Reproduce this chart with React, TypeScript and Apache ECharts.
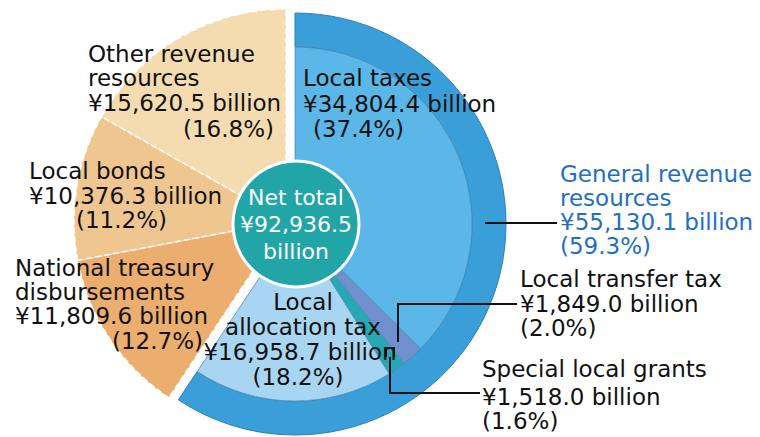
import React, { useEffect, useRef } from "react";
import * as echarts from "echarts";

// ---- data ----
const categories = [
  "Local taxes",
  "Local transfer tax",
  "Special local grants",
  "Local allocation tax",
  "National treasury disbursements",
  "Local bonds",
  "Other revenue resources",
];
const values = [34804.4, 1849.0, 1518.0, 16958.7, 11809.6, 10376.3, 15620.5];
const percents = [37.4, 2.0, 1.6, 18.2, 12.7, 11.2, 16.8];
const generalCount = 4; // first four items form the general revenue resources
const generalName = "General revenue resources";
const generalValue = 55130.1;
const generalPercent = 59.3;
const totalName = "Net total";
const totalValue = 92936.5;

// ---- styles / layout ----
const FONT = "DejaVu Sans";
const FS = 23;
const colors: Record<string, string> = {
  "Local taxes": "#5ab7e7",
  "Local transfer tax": "#6f8fcd",
  "Special local grants": "#27a8b4",
  "Local allocation tax": "#a8d5f2",
  "National treasury disbursements": "#ebae6e",
  "Local bonds": "#efc68f",
  "Other revenue resources": "#f4dcb0",
};
const ringColor = "#3a9fd8";
const centerColor = "#21a5a7";

// name lines + positions of: name block (first-line x, first-line y), value line, percent line
type LabelPos = {
  lines: string[];
  lh: number;
  xs: number[];
  ys: number[];
  align?: string;
  color?: string;
};
const labelPos: Record<string, LabelPos> = {
  "Local taxes": { lines: ["Local taxes"], lh: 24, xs: [303, 303, 313], ys: [78, 104, 129] },
  "Local transfer tax": { lines: ["Local transfer tax"], lh: 24, xs: [520, 520, 520], ys: [279, 304, 328] },
  "Special local grants": { lines: ["Special local grants"], lh: 24, xs: [482, 482, 482], ys: [369, 397, 421] },
  "Local allocation tax": {
    lines: ["Local", "allocation tax"],
    lh: 25,
    xs: [303, 300, 298],
    ys: [302, 352, 377],
    align: "center",
  },
  "National treasury disbursements": {
    lines: ["National treasury", "disbursements"],
    lh: 24,
    xs: [15, 15, 112],
    ys: [268, 316, 341],
  },
  "Local bonds": { lines: ["Local bonds"], lh: 24, xs: [29, 29, 76], ys: [171, 196, 220] },
  "Other revenue resources": {
    lines: ["Other revenue", "resources"],
    lh: 24,
    xs: [88, 88, 183],
    ys: [54, 103, 129],
  },
  [generalName]: {
    lines: ["General revenue", "resources"],
    lh: 24,
    xs: [560, 560, 560],
    ys: [174, 222, 246],
    color: "#1f6fc2",
  },
};

const leaders: number[][][] = [
  [[485, 223], [557, 223]],
  [[398, 342], [398, 304], [517, 304]],
  [[390, 357], [390, 393], [480, 393]],
  [[386, 357], [386, 348], [394, 348], [394, 357]],
];

const leftCenter = [286, 221];
const blueCenter = [295, 224];

const fmt = (v: number) =>
  v.toLocaleString("en-US", { minimumFractionDigits: 1, maximumFractionDigits: 1 });

const transparent = { color: "rgba(0,0,0,0)", borderWidth: 0 };

export default function App() {
  const ref = useRef<HTMLDivElement>(null);
  useEffect(() => {
    if (!ref.current) return;
    const chart = echarts.init(ref.current, undefined, { renderer: "svg" });

    const blueItems = categories.slice(0, generalCount).map((name, i) => ({
      name,
      value: values[i],
      itemStyle: { color: colors[name] },
    }));
    const otherSum = values.slice(generalCount).reduce((a, b) => a + b, 0);
    const leftItems = categories.slice(generalCount).map((name, i) => ({
      name,
      value: values[generalCount + i],
      itemStyle: { color: colors[name] },
    }));

    const graphics: any[] = [];
    const textEl = (t: string, x: number, y: number, p: LabelPos, extra: any = {}) => ({
      type: "text",
      x,
      y,
      z: 100,
      silent: true,
      style: {
        text: t,
        fill: p.color || "#111",
        fontSize: FS,
        fontFamily: FONT,
        align: p.align || "left",
        verticalAlign: "top",
        ...extra,
      },
    });
    const addLabel = (key: string, value: number, pct: number) => {
      const p = labelPos[key];
      // name block: lines joined with a tight line height
      graphics.push(
        textEl(p.lines.join("\n"), p.xs[0], p.ys[0] - p.lh / 2, p, { lineHeight: p.lh })
      );
      graphics.push(textEl(`¥${fmt(value)} billion`, p.xs[1], p.ys[1] - 12, p, { lineHeight: 24 }));
      graphics.push(textEl(`(${pct.toFixed(1)}%)`, p.xs[2], p.ys[2] - 12, p, { lineHeight: 24 }));
    };
    categories.forEach((c, i) => addLabel(c, values[i], percents[i]));
    addLabel(generalName, generalValue, generalPercent);
    leaders.forEach((pts) =>
      graphics.push({
        type: "polyline",
        z: 99,
        silent: true,
        shape: { points: pts },
        style: { stroke: "#111", lineWidth: 2, fill: null },
      })
    );

    const common = {
      type: "pie",
      startAngle: 90,
      clockwise: true,
      silent: true,
      label: { show: false },
      labelLine: { show: false },
      emphasis: { disabled: true },
      avoidLabelOverlap: false,
    };

    chart.setOption({
      animation: false,
      textStyle: { fontFamily: FONT },
      series: [
        {
          ...common,
          name: "left",
          center: leftCenter,
          radius: [0, 212],
          itemStyle: { borderColor: "#ffffff", borderWidth: 1.5, borderType: "dashed" },
          data: [{ name: generalName, value: generalValue, itemStyle: transparent }, ...leftItems],
        },
        {
          ...common,
          name: "ring",
          center: blueCenter,
          radius: [177, 211],
          itemStyle: { borderColor: "#2d80b8", borderWidth: 1 },
          data: [
            { name: generalName, value: generalValue, itemStyle: { color: ringColor } },
            { name: "rest", value: totalValue - generalValue, itemStyle: transparent },
          ],
        },
        {
          ...common,
          name: "inner",
          center: blueCenter,
          radius: [0, 177],
          itemStyle: { borderColor: "#4f8cb8", borderWidth: 0.8 },
          data: [...blueItems, { name: "rest", value: otherSum, itemStyle: transparent }],
        },
        {
          ...common,
          name: "total",
          center: [296, 224],
          radius: [0, 63],
          z: 5,
          itemStyle: { color: centerColor, borderColor: "#ffffff", borderWidth: 3 },
          label: {
            show: true,
            position: "center",
            color: "#ffffff",
            fontSize: 22,
            lineHeight: 27,
            fontFamily: FONT,
            formatter: () => `${totalName}\n¥${fmt(totalValue)}\nbillion`,
          },
          data: [{ name: totalName, value: totalValue }],
        },
      ],
      graphic: graphics,
    });
    return () => chart.dispose();
  }, []);
  return (
    <div
      ref={ref}
      style={{ position: "fixed", left: 0, top: 0, width: 760, height: 437, background: "#fff" }}
    />
  );
}
